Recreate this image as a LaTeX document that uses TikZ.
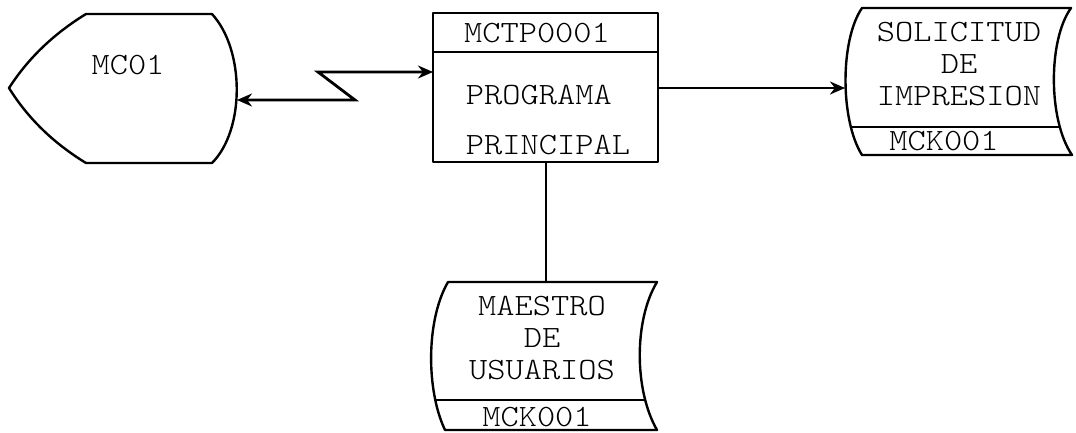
\documentclass[tikz,border=0pt]{standalone}
\usepackage{fontspec}
\setmonofont{lmmonolt10-regular.otf}[FakeStretch=1.12]
\usetikzlibrary{positioning}
\usetikzlibrary{calc}
\usetikzlibrary{intersections}
\usetikzlibrary{arrows.meta}

\tikzset{
    shapeline/.style={line width=2.4pt, line join=round},
    conn/.style={line width=2.8pt},
    lbl/.style={font=\fontsize{31}{32}\selectfont\ttfamily, inner sep=0pt},
}

\begin{document}
\begin{tikzpicture}[x=1pt, y=-1pt, >={Stealth[length=15pt,width=13pt]}]

    \useasboundingbox (0,0) rectangle (1076,432);

    % Display
    \draw[shapeline] (9,88) .. controls (29,57) and (55,33) .. (86,14) -- (212,14)
        .. controls (245,50) and (245,130) .. (212,163) -- (86,163)
        .. controls (55,144) and (29,120) .. (9,88) -- cycle;
    \coordinate (mcoE) at (237,100);
    \node[lbl] (mco) at (128,65) {MC01};

    % Program
    \draw[shapeline] (433,13) rectangle (658,162);
    \draw[shapeline] (433,52) -- (658,52);
    \coordinate (pgmW) at (433,72);
    \coordinate (pgmE) at (658,88);
    \coordinate (pgmS) at (546,162);
    \node[lbl] (pgmid) at (537,33) {MCTP0001};
    \node[lbl, align=left, font=\fontsize{31}{50}\selectfont\ttfamily] (pgmtxt) at (548,120) {PROGRAMA\\PRINCIPAL};

    % Solicitud
    \draw[shapeline, name path=sol] (862,8) -- (1071,8)
        .. controls (1048,40) and (1048,120) .. (1072,155) -- (862,155)
        .. controls (840,120) and (840,40) .. (862,8) -- cycle;
    \path[name path=soldiv] (800,127) -- (1100,127);
    \draw[shapeline, name intersections={of=sol and soldiv}] (intersection-1) -- (intersection-2);
    \coordinate (solW) at (845,88);
    \node[lbl, align=center] (soltxt) at (959,64) {SOLICITUD\\DE\\IMPRESION};
    \node[lbl] (solid) at (944,141) {MCK001};

    % Maestro
    \draw[shapeline, name path=mae] (448,282) -- (657,282)
        .. controls (634,320) and (634,390) .. (657,430) -- (445,430)
        .. controls (426,390) and (426,320) .. (448,282) -- cycle;
    \path[name path=maediv] (400,400) -- (700,400);
    \draw[shapeline, name intersections={of=mae and maediv}] (intersection-1) -- (intersection-2);
    \coordinate (maeN) at (546,282);
    \node[lbl, align=center] (maetxt) at (542,338) {MAESTRO\\DE\\USUARIOS};
    \node[lbl] (maeid) at (537,417) {MCK001};

    % Connectors
    \draw[conn, <->] (pgmW) -- (318,72) -- (355,100) -- (mcoE);
    \draw[conn, ->] (pgmE) -- (solW);
    \draw[conn] (pgmS) -- (maeN);

\end{tikzpicture}
\end{document}
